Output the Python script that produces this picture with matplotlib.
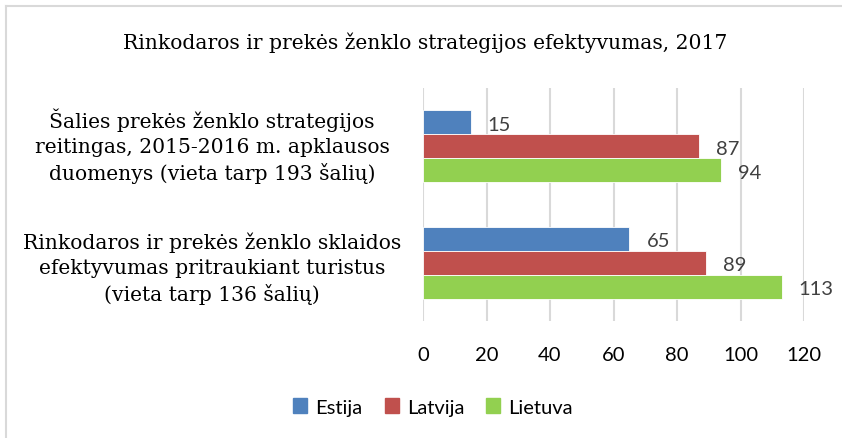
# marketing and brand strategy effectiveness, 2017
import matplotlib.pyplot as plt
import matplotlib.transforms as mtransforms
from matplotlib.lines import Line2D
from matplotlib.patches import Patch

categories = ["Šalies prekės ženklo strategijos\nreitingas, 2015-2016 m. apklausos\nduomenys (vieta tarp 193 šalių)",
              "Rinkodaros ir prekės ženklo sklaidos\nefektyvumas pritraukiant turistus\n(vieta tarp 136 šalių)"]
series = ["Estija", "Latvija", "Lietuva"]
estija = [15, 65]
latvija = [87, 89]
lietuva = [94, 113]
xticks = [0, 20, 40, 60, 80, 100, 120]

colors = ["#4F81BD", "#C0504D", "#92D050"]
title = "Rinkodaros ir prekės ženklo strategijos efektyvumas, 2017"

W, H = 842, 439
fig = plt.figure(figsize=[W/100, H/100], dpi=100)
ax = fig.add_axes([423/W, 1-322/H, (804-423)/W, (322-89)/H])

ypos = [1, 0]
h = 0.205
offsets = [h, 0, -h]
for vals, off, col in zip([estija, latvija, lietuva], offsets, colors):
    ys = [y + off for y in ypos]
    ax.barh(ys, vals, height=h, color=col, edgecolor="white", linewidth=0.6, zorder=3)
    for v, y in zip(vals, ys):
        ax.annotate(str(v), (v, y), xytext=(17, -2), textcoords="offset pixels",
                    va="center", ha="left", fontsize=14.5, family="Lato", color="#404040")

ax.set_xlim(0, 120)
ax.set_ylim(-0.5, 1.5)
ax.set_xticks(xticks)
ax.set_xticklabels([str(t) for t in xticks], fontsize=14.5, family="Lato", color="#000000")
ax.tick_params(axis="x", length=0, pad=18)
ax.set_yticks(ypos)
ax.set_yticklabels(categories, fontsize=14.6, family="DejaVu Serif", ha="center",
                   linespacing=1.38)
ax.tick_params(axis="y", length=0, pad=0)
# centre the category labels around x = 212 px (first one nudged up, the caron skews its box)
for lab, dy in zip(ax.get_yticklabels(), [6, 0]):
    shift = mtransforms.ScaledTranslation(-(423-212)/100, dy/100, fig.dpi_scale_trans)
    lab.set_transform(lab.get_transform() + shift)
ax.grid(axis="x", color="#D9D9D9", linewidth=1.5, zorder=0)
for s in ax.spines.values():
    s.set_visible(False)

fig.text(425/W, 1-43/H, title, ha="center", va="center", fontsize=14.6, family="DejaVu Serif")

handles = [Patch(color=c) for c in colors]
fig.legend(handles, series, loc="center", bbox_to_anchor=(433/W, 1-408/H), ncol=3, frameon=False,
           prop={"family": "Lato", "size": 14.5}, handlelength=0.7, handleheight=0.7,
           handletextpad=0.4, columnspacing=1.1)

# chart border (only top and left edges visible)
fig.add_artist(Line2D([6/W, 6/W], [0, 1-7/H], color="#D9D9D9", linewidth=1.5))
fig.add_artist(Line2D([6/W, 1], [1-7/H, 1-7/H], color="#D9D9D9", linewidth=1.5))

plt.savefig("out.png", dpi=100)
